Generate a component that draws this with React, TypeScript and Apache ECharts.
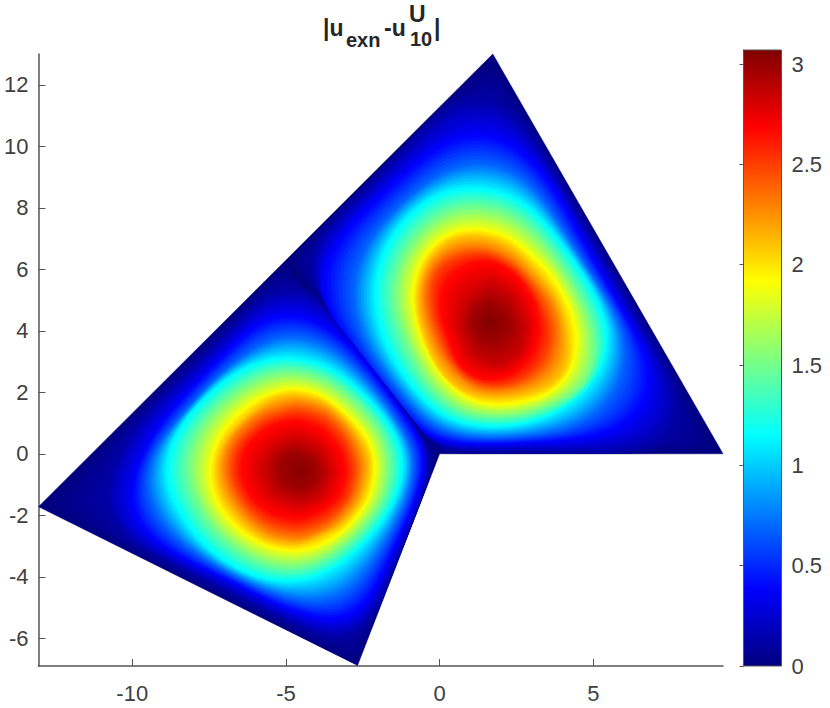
import React, { useEffect, useRef } from "react";
import * as echarts from "echarts";

const xTicks = [-10, -5, 0, 5];
const yTicks = [-6, -4, -2, 0, 2, 4, 6, 8, 10, 12];
const barTicks = [0, 0.5, 1, 1.5, 2, 2.5, 3];
const xRange = [-13.05, 9.22];
const yRange = [-6.9, 13.0];
const barMax = 3.07;

const colorPositions = [0, 0.125, 0.375, 0.625, 0.875, 1];
const colorStops = [[0, 0, 127], [0, 0, 255], [0, 255, 255], [255, 255, 0], [255, 0, 0], [127, 0, 0]];

const domain = [[0, 0], [9.22, 0], [1.73, 13], [-13.05, -1.72], [-2.67, -6.88]];
const upperRegion = [[0, 0], [9.22, 0], [1.73, 13], [-5, 6.3]];
const lowerRegion = [[0, 0], [-5, 6.3], [-13.05, -1.72], [-2.67, -6.88]];
const upperPeak = [1.64, 4.26];
const lowerPeak = [-4.54, -0.56];
const upperPeakValue = 3.05;
const lowerPeakValue = 3.03;

const levels = [0.12, 0.38, 0.7, 1.14, 1.5, 1.9, 2.1, 2.3, 2.5, 2.67, 2.85, 2.98];

const upperContours = [
  [[1.7,12.0],[3.2,10.0],[4.35,8.0],[5.55,6.0],[6.7,3.9],[7.5,2.5],[8.0,1.0],[7.6,0.2],[6,0.12],[3,0.1],[0.5,0.1],[-0.3,0.3],[-1.5,2.0],[-3,4.0],[-4.4,5.85],[-4.3,6.6],[-3,7.95],[-1.5,9.5],[0,11],[1,12]],
  [[1.53,10.6],[2.6,10.0],[3.6,8.8],[4.55,7.1],[5.5,5.4],[6.35,3.9],[6.95,2.7],[6.9,1.6],[6.1,0.85],[4.7,0.5],[3,0.38],[1.5,0.33],[0.3,0.35],[-0.45,0.6],[-1.1,1.25],[-2,2.35],[-2.85,3.5],[-3.65,4.6],[-3.95,5.6],[-3.6,6.6],[-2.8,7.55],[-1.7,8.6],[-0.5,9.7],[0.6,10.45]],
  [[1.3,9.5],[2.4,9.3],[3.25,8.4],[4.2,6.95],[5.1,5.55],[5.85,4.3],[6.1,3.2],[5.8,2.1],[5.0,1.15],[3.9,0.75],[2.3,0.55],[0.9,0.55],[-0.2,0.85],[-0.95,1.6],[-1.75,2.6],[-2.45,3.65],[-2.85,4.9],[-2.7,6.2],[-2.0,7.35],[-1.0,8.35],[0.1,9.2],[0.9,9.5]],
  [[1.2,8.7],[2.29,8.49],[3.16,7.84],[4.02,6.75],[4.78,5.67],[5.38,4.48],[5.54,3.5],[5.11,2.42],[4.24,1.55],[3.05,1.01],[1.85,0.85],[0.77,0.95],[-0.1,1.33],[-0.75,1.98],[-1.4,2.85],[-1.94,3.93],[-2.16,5.13],[-1.94,6.43],[-1.29,7.51],[-0.31,8.38],[0.44,8.65]],
  [[1.2,8.05],[2.2,7.88],[3.05,7.25],[3.85,6.3],[4.5,5.25],[5.0,4.15],[5.05,3.1],[4.75,2.2],[4.0,1.75],[2.9,1.3],[1.85,1.2],[0.85,1.3],[0.05,1.8],[-0.5,2.45],[-1.0,3.4],[-1.3,4.2],[-1.53,5.13],[-1.3,6.3],[-0.7,7.2],[0.1,7.85],[0.7,8.05]],
  [[1.2,7.35],[2.07,7.19],[2.94,6.54],[3.7,5.78],[4.24,4.8],[4.51,3.83],[4.35,2.74],[3.7,1.98],[2.72,1.66],[1.85,1.55],[0.99,1.71],[0.23,2.31],[-0.31,3.07],[-0.69,3.93],[-0.91,5.13],[-0.69,6.21],[-0.1,6.97],[0.55,7.3]],
  [[1.25,7.1],[2.2,6.85],[3.0,6.1],[3.7,5.3],[4.1,4.3],[4.2,3.3],[4.05,2.55],[3.4,2.1],[2.4,1.85],[1.5,1.82],[0.7,2.05],[0.05,2.65],[-0.35,3.45],[-0.65,4.4],[-0.72,5.2],[-0.5,6.15],[0.1,6.85],[0.7,7.1]],
  [[1.31,6.81],[2.29,6.43],[3.05,5.68],[3.7,4.83],[3.92,3.83],[3.7,2.85],[3.05,2.31],[2.07,2.04],[1.2,2.09],[0.44,2.68],[-0.04,3.38],[-0.37,4.26],[-0.53,5.23],[-0.31,6.1],[0.34,6.64]],
  [[1.45,6.55],[2.4,6.1],[3.1,5.3],[3.5,4.4],[3.6,3.85],[3.35,2.95],[2.6,2.35],[1.7,2.2],[0.9,2.45],[0.35,3.1],[0.05,3.8],[-0.2,4.5],[-0.25,5.4],[-0.1,6.0],[0.55,6.4]],
  [[1.64,6.32],[2.51,5.78],[3.1,4.91],[3.26,3.93],[2.94,3.07],[2.18,2.47],[1.31,2.42],[0.66,2.85],[0.3,3.72],[0.01,4.69],[0.12,5.56],[0.77,6.1]],
  [[1.64,5.56],[2.4,5.12],[2.83,4.14],[2.61,3.27],[1.85,2.84],[1.1,3.17],[0.66,4.14],[0.88,5.0]],
  [[1.64,4.91],[2.18,4.59],[2.29,4.04],[1.85,3.61],[1.31,3.72],[1.04,4.26],[1.2,4.69]],
];

const lowerContours = [
  [[-4.65,5.56],[-3.57,4.8],[-2.48,3.18],[-0.97,1.12],[-0.21,-0.08],[-0.64,-1.59],[-1.51,-3.65],[-2.65,-6.31],[-4.65,-5.55],[-7.91,-3.92],[-10.84,-2.41],[-11.0,-1.2],[-10.0,0.85],[-7.91,2.9],[-6.28,4.55],[-5.1,5.75]],
  [[-4.77,4.59],[-3.79,4.31],[-2.81,3.39],[-1.84,2.2],[-0.69,0.57],[-0.42,-0.18],[-0.86,-1.7],[-1.51,-3.11],[-2.16,-4.52],[-2.92,-5.6],[-3.9,-5.35],[-5.2,-4.95],[-6.61,-4.2],[-8.12,-3.5],[-9.7,-2.6],[-10.2,-1.6],[-9.85,-0.4],[-9.1,1.0],[-7.8,2.4],[-6.39,3.85],[-5.5,4.6]],
  [[-4.8,3.9],[-3.7,3.6],[-2.65,2.7],[-1.7,1.55],[-0.92,0.25],[-0.78,-0.15],[-1.05,-1.45],[-1.7,-2.75],[-2.55,-4.05],[-3.3,-4.75],[-4.0,-4.85],[-5.2,-4.6],[-6.5,-4.05],[-7.9,-3.25],[-9.1,-2.25],[-9.6,-1.15],[-9.35,0.05],[-8.4,1.2],[-7.35,2.4],[-6.15,3.35],[-5.4,3.8]],
  [[-4.87,3.2],[-3.57,2.85],[-2.48,1.98],[-1.56,0.9],[-1.13,-0.13],[-1.29,-1.16],[-1.94,-2.35],[-3.03,-3.49],[-4.11,-4.09],[-5.2,-4.2],[-6.39,-3.87],[-7.69,-3.0],[-8.56,-1.81],[-8.99,-0.73],[-8.77,0.36],[-8.02,1.44],[-6.93,2.47],[-5.95,3.01]],
  [[-4.8,2.72],[-3.65,2.42],[-2.65,1.65],[-1.9,0.75],[-1.6,-0.25],[-1.75,-1.35],[-2.4,-2.35],[-3.4,-3.25],[-4.4,-3.7],[-5.3,-3.72],[-6.5,-3.2],[-7.5,-2.3],[-8.05,-1.25],[-8.25,-0.4],[-8.05,0.4],[-7.45,1.35],[-6.4,2.2],[-5.6,2.6]],
  [[-4.76,2.2],[-3.79,1.93],[-2.92,1.22],[-2.27,0.47],[-2.05,-0.4],[-2.27,-1.49],[-2.92,-2.35],[-3.79,-3.0],[-4.76,-3.22],[-5.74,-3.0],[-6.61,-2.46],[-7.26,-1.7],[-7.53,-0.73],[-7.36,0.25],[-6.82,1.12],[-5.95,1.82]],
  [[-4.7,1.95],[-3.72,1.7],[-2.9,0.95],[-2.35,0.1],[-2.25,-0.4],[-2.5,-1.5],[-3.2,-2.35],[-4.6,-3.0],[-5.7,-2.8],[-6.5,-2.2],[-7.1,-1.4],[-7.3,-0.5],[-7.05,0.4],[-6.3,1.2],[-5.4,1.85]],
  [[-4.65,1.71],[-3.68,1.44],[-2.92,0.68],[-2.48,-0.4],[-2.76,-1.49],[-3.46,-2.3],[-4.54,-2.79],[-5.63,-2.57],[-6.39,-1.92],[-6.93,-1.05],[-7.04,-0.29],[-6.71,0.57],[-5.85,1.33]],
  [[-4.65,1.42],[-3.72,1.15],[-3.05,0.42],[-2.75,-0.5],[-3.0,-1.5],[-3.7,-2.15],[-4.6,-2.47],[-5.6,-2.25],[-6.3,-1.65],[-6.75,-0.75],[-6.7,-0.05],[-6.5,0.4],[-5.7,1.1]],
  [[-4.65,1.12],[-3.79,0.79],[-3.24,0.14],[-3.03,-0.62],[-3.35,-1.49],[-4.0,-1.92],[-4.65,-2.14],[-5.52,-1.92],[-6.17,-1.38],[-6.5,-0.51],[-6.28,0.25],[-5.52,0.9]],
  [[-4.65,0.47],[-3.89,0.14],[-3.57,-0.62],[-3.89,-1.38],[-4.65,-1.59],[-5.41,-1.27],[-5.74,-0.51],[-5.41,0.14]],
  [[-4.54,0.03],[-4.06,-0.29],[-4.0,-0.83],[-4.54,-1.16],[-5.09,-0.94],[-5.2,-0.4],[-4.98,-0.02]],
];

const lobes = [
  { region: upperRegion, contours: upperContours, peak: upperPeak, peakValue: upperPeakValue },
  { region: lowerRegion, contours: lowerContours, peak: lowerPeak, peakValue: lowerPeakValue },
];

const titleParts = [
  { text: "|u", x: 323, y: 39, size: 23 },
  { text: "exn", x: 346, y: 50, size: 20 },
  { text: "-u", x: 384, y: 39, size: 23 },
  { text: "U", x: 409, y: 25, size: 23 },
  { text: "10", x: 410, y: 49, size: 20 },
  { text: "|", x: 434, y: 39, size: 23 },
];

const FONT = "'Liberation Sans', Arial, sans-serif";
const TEXT = "#404040";
const AXIS = "#555555";

function jet(v: number) {
  const t = Math.min(1, Math.max(0, v / barMax));
  let i = 0;
  while (i < colorPositions.length - 2 && t > colorPositions[i + 1]) i++;
  const f = (t - colorPositions[i]) / (colorPositions[i + 1] - colorPositions[i]);
  const c = colorStops[i].map((a, k) => Math.round(a + (colorStops[i + 1][k] - a) * f));
  return `rgb(${c[0]},${c[1]},${c[2]})`;
}

const RAYS = 180;
const STEPS = 8;

// Distance from the peak to a closed outline, along each of RAYS directions (pixels).
function radial(pts: number[][], c: number[]) {
  const out: number[] = [];
  for (let a = 0; a < RAYS; a++) {
    const th = (a / RAYS) * Math.PI * 2;
    const dx = Math.cos(th);
    const dy = Math.sin(th);
    let best = 0;
    pts.forEach((p, i) => {
      const q = pts[(i + 1) % pts.length];
      const ex = q[0] - p[0];
      const ey = q[1] - p[1];
      const den = dx * ey - dy * ex;
      if (Math.abs(den) < 1e-9) return;
      const t = ((p[0] - c[0]) * ey - (p[1] - c[1]) * ex) / den;
      const u = ((p[0] - c[0]) * dy - (p[1] - c[1]) * dx) / den;
      if (t > 0 && u >= -1e-9 && u <= 1 + 1e-9 && t > best) best = t;
    });
    out.push(best);
  }
  return out;
}

// Rounds the corners of a hand-read outline; the region's own outline stays sharp.
function soften(r: number[], span: number) {
  let cur = r;
  for (let pass = 0; pass < 2; pass++) {
    cur = cur.map((_, i) => {
      let s = 0;
      for (let k = -span; k <= span; k++) s += cur[(i + k + RAYS) % RAYS];
      return s / (2 * span + 1);
    });
  }
  return cur;
}

function ringPoints(c: number[], a: number[], b: number[] | null, f: number) {
  return a.map((ra, i) => {
    const r = b ? ra + (b[i] - ra) * f : ra * (1 - f);
    const th = (i / RAYS) * Math.PI * 2;
    return [c[0] + r * Math.cos(th), c[1] + r * Math.sin(th)];
  });
}

function renderDomain(_: any, api: any) {
  return {
    type: "polygon",
    silent: true,
    shape: { points: domain.map((p) => api.coord(p)) },
    style: { fill: jet(0), stroke: jet(0), lineWidth: 0.5 },
  };
}

function renderLobe(_: any, api: any) {
  const lobe = lobes[api.value(0)];
  const regionPts = lobe.region.map((p) => api.coord(p));
  const c = api.coord(lobe.peak);
  const children: any[] = [];
  let prevR = radial(regionPts, c);
  let prevLevel = 0;
  const addBand = (nextR: number[] | null, level: number) => {
    for (let j = 1; j <= STEPS; j++) {
      const f = j / STEPS;
      const color = jet(prevLevel + (level - prevLevel) * f);
      children.push({
        type: "polygon",
        silent: true,
        shape: { points: ringPoints(c, prevR, nextR, f) },
        style: { fill: color, stroke: color, lineWidth: 0.4 },
      });
    }
  };
  lobe.contours.forEach((contour, k) => {
    const pts = contour.map((p) => api.coord(p));
    const r = soften(radial(pts, c), 4);
    addBand(r, levels[k]);
    prevR = r;
    prevLevel = levels[k];
  });
  addBand(null, lobe.peakValue);
  return {
    type: "group",
    clipPath: { type: "polygon", shape: { points: regionPts } },
    children,
  };
}

function renderBar(_: any, api: any) {
  const a = api.coord([0, 0]);
  const b = api.coord([1, barMax]);
  return {
    type: "rect",
    silent: true,
    shape: { x: a[0], y: b[1], width: b[0] - a[0], height: a[1] - b[1] },
    style: {
      fill: new echarts.graphic.LinearGradient(
        0, 1, 0, 0,
        colorPositions.map((offset, i) => ({
          offset,
          color: `rgb(${colorStops[i].join(",")})`,
        }))
      ),
      stroke: AXIS,
      lineWidth: 1,
    },
  };
}

const labelStyle = { color: TEXT, fontFamily: FONT, fontSize: 22 };
const axisLine = { show: true, onZero: false, lineStyle: { color: AXIS, width: 1.5 } };

export default function App() {
  const ref = useRef<HTMLDivElement>(null);
  useEffect(() => {
    const chart = echarts.init(ref.current!, undefined, { renderer: "svg" });
    chart.setOption({
      animation: false,
      backgroundColor: "#ffffff",
      grid: [
        { left: 38.5, right: 107, top: 54, bottom: 42 },
        { left: 743.5, right: 48.5, top: 50, bottom: 42 },
      ],
      xAxis: [
        {
          type: "value", gridIndex: 0, min: xRange[0], max: xRange[1], splitLine: { show: false },
          axisLine,
          axisTick: { inside: true, length: 7, customValues: xTicks, lineStyle: { color: AXIS } },
          axisLabel: { ...labelStyle, margin: 16, customValues: xTicks },
        },
        { type: "value", gridIndex: 1, min: 0, max: 1, show: false },
      ],
      yAxis: [
        {
          type: "value", gridIndex: 0, min: yRange[0], max: yRange[1], splitLine: { show: false },
          axisLine,
          axisTick: { inside: true, length: 7, customValues: yTicks, lineStyle: { color: AXIS } },
          axisLabel: { ...labelStyle, margin: 10, customValues: yTicks },
        },
        {
          type: "value", gridIndex: 1, min: 0, max: barMax, position: "right", splitLine: { show: false },
          axisLine: { show: true, lineStyle: { color: "#333333", width: 1 } },
          axisTick: { inside: true, length: 4, customValues: barTicks, lineStyle: { color: AXIS } },
          axisLabel: { ...labelStyle, margin: 10, customValues: barTicks },
        },
      ],
      series: [
        {
          type: "custom", xAxisIndex: 0, yAxisIndex: 0, silent: true,
          coordinateSystem: "cartesian2d", renderItem: renderDomain,
          data: [[0]], encode: { x: [], y: [] }, z: 1,
        },
        {
          type: "custom", xAxisIndex: 0, yAxisIndex: 0, clip: true, silent: true,
          coordinateSystem: "cartesian2d", renderItem: renderLobe,
          data: lobes.map((_, i) => [i]), encode: { x: [], y: [] }, z: 2,
        },
        {
          type: "custom", xAxisIndex: 1, yAxisIndex: 1, silent: true,
          coordinateSystem: "cartesian2d", renderItem: renderBar,
          data: [[0]], encode: { x: [], y: [] },
        },
      ],
      graphic: titleParts.map((p) => ({
        type: "text",
        x: p.x,
        y: p.y,
        silent: true,
        style: {
          text: p.text,
          fill: "#262626",
          fontFamily: FONT,
          fontWeight: "bold",
          fontSize: p.size,
          textVerticalAlign: "bottom",
        },
      })),
    });
    return () => chart.dispose();
  }, []);
  return (
    <div
      ref={ref}
      style={{ position: "absolute", left: 0, top: 0, width: 830, height: 708 }}
    />
  );
}
